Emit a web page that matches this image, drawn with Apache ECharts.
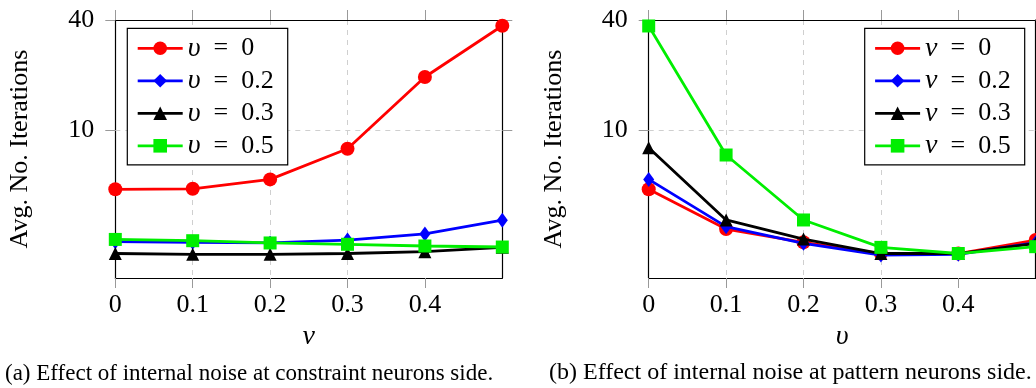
<!DOCTYPE html>
<html>
<head>
<meta charset="utf-8">
<script src="https://cdn.jsdelivr.net/npm/echarts@6/dist/echarts.min.js"></script>
<style>
html,body{margin:0;padding:0;background:#fff;}
#c{width:1036px;height:388px;}
</style>
</head>
<body>
<div id="c"></div>
<script>
// ---- data ----
const xValues = [0, 0.1, 0.2, 0.3, 0.4, 0.5];
const xTickLabels = [0, 0.1, 0.2, 0.3, 0.4];
const yTickLabels = [10, 40];

// (a) noise at constraint neurons side, series by upsilon
const aNames = ['υ = 0', 'υ = 0.2', 'υ = 0.3', 'υ = 0.5'];
const aUps0  = [4.74, 4.77, 5.37, 7.90, 19.5, 37.2];
const aUps02 = [2.45, 2.43, 2.41, 2.50, 2.70, 3.21];
const aUps03 = [2.11, 2.09, 2.09, 2.11, 2.16, 2.28];
const aUps05 = [2.52, 2.48, 2.41, 2.37, 2.32, 2.29];

// (b) noise at pattern neurons side, series by nu
const bNames = ['ν = 0', 'ν = 0.2', 'ν = 0.3', 'ν = 0.5'];
const bNu0  = [4.74, 2.87, 2.43, 2.11, 2.11, 2.50];
const bNu02 = [5.37, 2.96, 2.40, 2.07, 2.09, 2.42];
const bNu03 = [8.00, 3.22, 2.53, 2.11, 2.11, 2.40];
const bNu05 = [37.1, 7.30, 3.22, 2.28, 2.11, 2.30];

const captions = ['(a) Effect of internal noise at constraint neurons side.',
                  '(b) Effect of internal noise at pattern neurons side.'];
const xTitles = ['ν', 'υ'];
const yTitle = 'Avg. No. Iterations';

// ---- styling ----
const FONT = 'Liberation Serif';
const colors = ['#ff0000', '#0000ff', '#000000', '#00ee00'];
const symbols = ['circle', 'diamond', 'triangle', 'rect'];
const symSizes = [14, [11, 15], 13, 13];
const grids = [
  {left: 115.3, top: 20, width: 387, height: 258},
  {left: 648.7, top: 20, width: 387, height: 258}
];

const tickStyle = {show: true, inside: false, length: 10, lineStyle: {color: '#999', width: 1}};
const axisLine = {show: true, onZero: false, lineStyle: {color: '#000', width: 1.2}};

const xAxes = [], yAxes = [], series = [], legends = [];
grids.forEach((g, gi) => {
  xAxes.push({
    type: 'value', gridIndex: gi, position: 'bottom', min: 0, max: 0.5, interval: 0.1,
    axisLine: axisLine,
    axisTick: Object.assign({}, tickStyle, {customValues: xTickLabels}),
    axisLabel: {customValues: xTickLabels, margin: 14, fontFamily: FONT, fontSize: 26, color: '#000',
                formatter: v => String(v)},
    splitLine: {show: true, showMinLine: false, showMaxLine: false,
                lineStyle: {type: [5, 5], color: '#cfcfcf', width: 1}},
    name: xTitles[gi], nameLocation: 'middle', nameGap: 33,
    nameTextStyle: {fontFamily: FONT, fontSize: 28, fontStyle: 'italic', color: '#000'}
  });
  xAxes.push({
    type: 'value', gridIndex: gi, position: 'top', min: 0, max: 0.5, interval: 0.1,
    axisLine: axisLine,
    axisTick: Object.assign({}, tickStyle, {customValues: xTickLabels}),
    axisLabel: {show: false}, splitLine: {show: false}
  });
  yAxes.push({
    type: 'log', gridIndex: gi, position: 'left', min: 1.55, max: 40,
    axisLine: axisLine,
    axisTick: Object.assign({}, tickStyle, {customValues: yTickLabels}),
    axisLabel: {customValues: yTickLabels, margin: 21, fontFamily: FONT, fontSize: 26, color: '#000',
                formatter: v => String(Math.round(v))},
    splitLine: {show: false},
    name: yTitle, nameLocation: 'middle', nameGap: 82, nameRotate: 90,
    nameTextStyle: {fontFamily: FONT, fontSize: 26, color: '#000'}
  });
  yAxes.push({
    type: 'log', gridIndex: gi, position: 'right', min: 1.55, max: 40,
    axisLine: axisLine,
    axisTick: Object.assign({}, tickStyle, {customValues: yTickLabels}),
    axisLabel: {show: false}, splitLine: {show: false}
  });
});

function addSeries(names, arrays, gi) {
  arrays.forEach((arr, i) => {
    const s = {
      type: 'line', name: names[i], xAxisIndex: gi * 2, yAxisIndex: gi * 2,
      data: xValues.map((x, k) => [x, arr[k]]),
      symbol: symbols[i], symbolSize: symSizes[i], showSymbol: true,
      lineStyle: {color: colors[i], width: 2.8},
      itemStyle: {color: colors[i]},
      color: colors[i],
      animation: false, z: 3 + i
    };
    if (i === 0) {
      s.markLine = {
        silent: true, symbol: ['none', 'none'], label: {show: false},
        lineStyle: {type: [5, 5], color: '#cfcfcf', width: 1},
        data: [{yAxis: 10}], animation: false, z: 1
      };
    }
    series.push(s);
  });
}
addSeries(aNames, [aUps0, aUps02, aUps03, aUps05], 0);
addSeries(bNames, [bNu0, bNu02, bNu03, bNu05], 1);

function makeLegend(names, left) {
  return {
    data: names, orient: 'vertical', left: left, top: 28.3,
    itemWidth: 45, itemHeight: 17, itemGap: 4.5,
    backgroundColor: '#fff', borderColor: '#000', borderWidth: 1.2,
    padding: [6, 14, 5, 9],
    selectedMode: false,
    lineStyle: {width: 2.8},
    formatter: n => {
      const parts = n.split(' = ');
      return '{g|' + parts[0] + '}{t|\u2002=\u2002' + parts[1] + '}';
    },
    textStyle: {
      fontFamily: FONT, fontSize: 26, color: '#000', lineHeight: 26,
      rich: {
        g: {fontFamily: FONT, fontSize: 28, fontStyle: 'italic', color: '#000', lineHeight: 26},
        t: {fontFamily: FONT, fontSize: 26, color: '#000', lineHeight: 26}
      }
    }
  };
}
legends.push(makeLegend(aNames, 127.3));
legends.push(makeLegend(bNames, 864.7));

const chart = echarts.init(document.getElementById('c'), null, {renderer: 'canvas'});
chart.setOption({
  animation: false,
  grid: grids,
  xAxis: xAxes,
  yAxis: yAxes,
  legend: legends,
  series: series,
  graphic: [
    {type: 'text', left: 5, top: 362, style: {text: captions[0], fontFamily: FONT, fontSize: 23, fill: '#000'}},
    {type: 'text', left: 549, top: 361, style: {text: captions[1], fontFamily: FONT, fontSize: 24, fill: '#000'}}
  ]
});
</script>
</body>
</html>
